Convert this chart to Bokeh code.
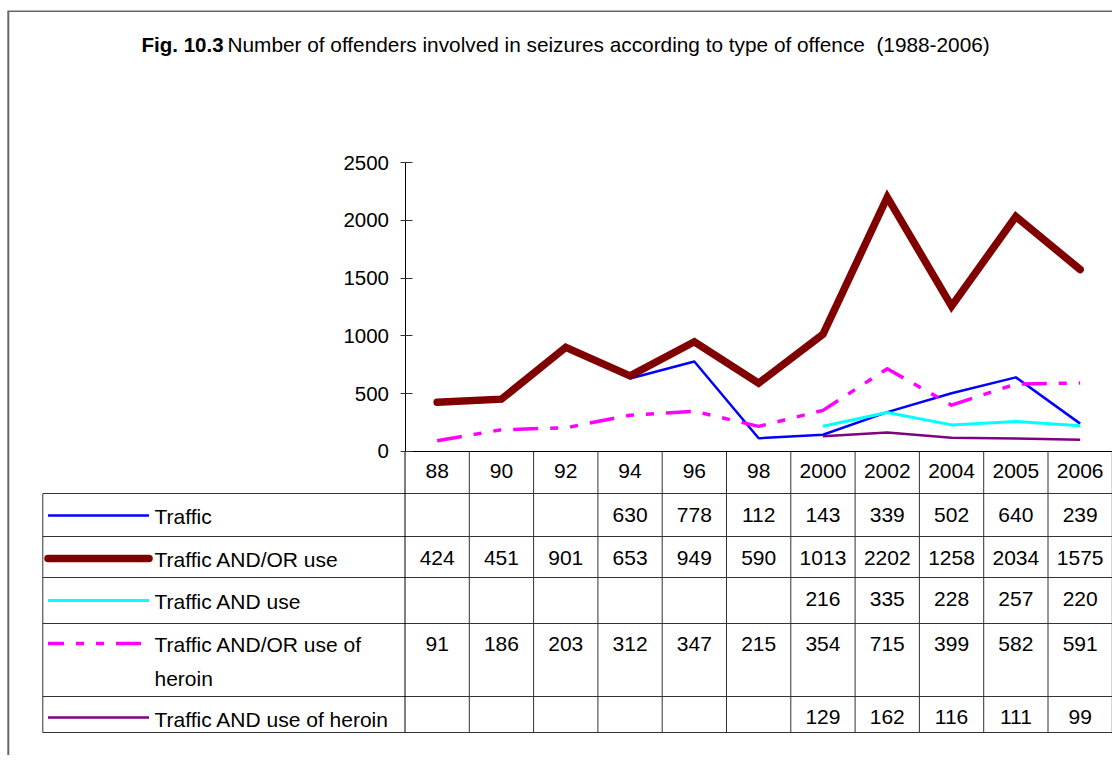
import math
from bokeh.plotting import figure
from bokeh.models import Range1d, LinearAxis, FixedTicker, ColumnDataSource
from bokeh.core.properties import value
from bokeh.embed import file_html
from bokeh.resources import INLINE

# ---------------- data ----------------
years = ["88", "90", "92", "94", "96", "98", "2000", "2002", "2004", "2005", "2006"]
traffic = [None, None, None, 630, 778, 112, 143, 339, 502, 640, 239]
traffic_and_or_use = [424, 451, 901, 653, 949, 590, 1013, 2202, 1258, 2034, 1575]
traffic_and_use = [None, None, None, None, None, None, 216, 335, 228, 257, 220]
heroin_and_or_use = [91, 186, 203, 312, 347, 215, 354, 715, 399, 582, 591]
heroin_and_use = [None, None, None, None, None, None, 129, 162, 116, 111, 99]
series_labels = ["Traffic", "Traffic AND/OR use", "Traffic AND use",
                 "Traffic AND/OR use of\nheroin", "Traffic AND use of heroin"]
y_ticks = [0, 500, 1000, 1500, 2000, 2500]
title_bold = "Fig. 10.3"
title_rest = "Number of offenders involved in seizures according to type of offence \u00a0(1988-2006)"

series = [traffic, traffic_and_or_use, traffic_and_use, heroin_and_or_use, heroin_and_use]

# ---------------- styles ----------------
colors = ["#0000FF", "#800000", "#00FFFF", "#FF00FF", "#800080"]
widths = [2.5, 7.5, 3, 3.5, 2.5]
dashes = ["solid", "solid", "solid", "25 12 8 12 8 12", "solid"]
FONT = value("Liberation Sans")
FS = value("21px")

# layout helpers (page pixels -> column units); column width in px
COL0 = 404.5
COLW = 64.3
def ux(px):
    return (px - COL0) / COLW

W, H = 1112, 755
n = len(years)
p = figure(width=W, height=H,
           x_range=Range1d(ux(0), ux(W)), y_range=Range1d(H, 0),
           output_backend="svg", toolbar_location=None, title=None,
           x_axis_type=None, y_axis_type=None, min_border=0)
p.outline_line_color = None
p.background_fill_color = "white"
p.border_fill_color = "white"

# counts range: 0 at page y 450.7, 2500 at page y 162.3
PX_PER_UNIT = (450.7 - 162.3) / 2500
p.extra_y_ranges = {"counts": Range1d(-(H - 450.7) / PX_PER_UNIT, 450.7 / PX_PER_UNIT)}

# outer chart frame (left and top border)
p.segment(x0=[ux(7.8), ux(7)], y0=[10.7, 10.7], x1=[ux(7.8), ux(W)], y1=[H, 10.7],
          line_color="#666666", line_width=[2, 1.5])

# ---------------- title ----------------
p.text(x=[ux(141)], y=[44], text=[title_bold], text_font=FONT, text_font_size=value("20.5px"),
       text_font_style="bold", text_baseline="middle", text_align="left", text_color="black")
p.text(x=[ux(227)], y=[44], text=[title_rest], text_font=FONT, text_font_size=value("20.8px"),
       text_baseline="middle", text_align="left", text_color="black")

# ---------------- table grid ----------------
row_edges = [451, 493, 536, 577, 623, 696, 732]
legend_left = ux(42.3)
hx0, hx1, hy = [], [], []
for k, yy in enumerate(row_edges):
    hx0.append(0 if k == 0 else legend_left)
    hx1.append(n)
    hy.append(yy)
p.segment(x0=hx0, y0=hy, x1=hx1, y1=hy, line_color="#333333", line_width=1)
vx = [legend_left] + list(range(1, n + 1))
vy0 = [row_edges[1]] + [row_edges[0]] * n
vy1 = [row_edges[-1]] * (n + 1)
p.segment(x0=vx, y0=vy0, x1=vx, y1=vy1, line_color="#333333", line_width=1)
p.segment(x0=[0], y0=[row_edges[0]], x1=[0], y1=[row_edges[-1]], line_color="black", line_width=1)
p.segment(x0=[0], y0=[row_edges[0]], x1=[n], y1=[row_edges[0]], line_color="black", line_width=1.2)

# header labels
header_y = 470
p.text(x=[i + 0.5 for i in range(n)], y=[header_y] * n, text=years, text_font=FONT,
       text_font_size=FS, text_align="center", text_baseline="middle", text_color="black")

# values in table
value_y = [514, 557, 598, 643, 716]
tx, ty, tt = [], [], []
for j, s in enumerate(series):
    for i, v in enumerate(s):
        if v is not None:
            tx.append(i + 0.5)
            ty.append(value_y[j])
            tt.append(str(v))
p.text(x="x", y="y", text="t", source=ColumnDataSource(dict(x=tx, y=ty, t=tt)),
       text_font=FONT, text_font_size=FS, text_align="center", text_baseline="middle",
       text_color="black")

# legend keys and labels
key_y = [515, 558, 600, 643, 717]
label_y = [516, 559, 601, 661, 719]
for j in range(len(series)):
    p.line(x=[ux(47.5), ux(148.5)], y=[key_y[j], key_y[j]], line_color=colors[j],
           line_width=widths[j], line_dash=dashes[j], line_dash_offset=9 if j == 3 else 0,
           line_cap="round" if j == 1 else "butt")
    p.text(x=[ux(154)], y=[label_y[j]], text=[series_labels[j]], text_font=FONT,
           text_font_size=FS, text_align="left", text_baseline="middle",
           text_color="black", text_line_height=1.5)

# ---------------- series lines ----------------
xs = [i + 0.5 for i in range(n)]
for j, s in enumerate(series):
    ys = [float("nan") if v is None else v for v in s]
    p.line(x=xs, y=ys, y_range_name="counts", line_color=colors[j], line_width=widths[j],
           line_dash=dashes[j], line_join="miter" if j == 1 else "round",
           line_cap="round" if j == 1 else "butt")

# ---------------- y axis ----------------
ax = LinearAxis(y_range_name="counts", fixed_location=0, bounds=(0, 2500),
                ticker=FixedTicker(ticks=y_ticks))
ax.axis_line_color = "black"
ax.axis_line_width = 1
ax.major_tick_in = 7
ax.major_tick_out = 5
ax.major_tick_line_color = "#333333"
ax.minor_tick_in = 0
ax.minor_tick_out = 0
ax.major_label_standoff = 11
ax.major_label_text_font = "Liberation Sans"
ax.major_label_text_font_size = "20.5px"
ax.major_label_text_color = "black"
p.add_layout(ax, "left")

open("out.html", "w").write(file_html(p, INLINE))
